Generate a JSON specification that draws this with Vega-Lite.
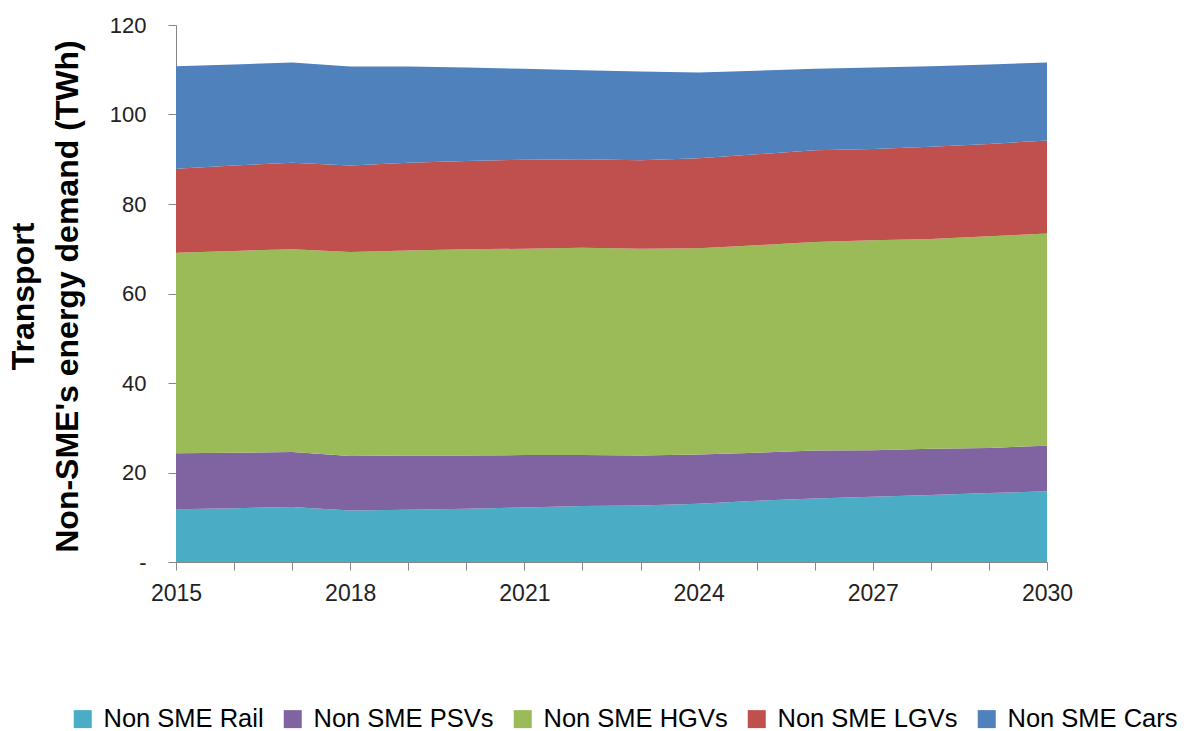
{
  "$schema": "https://vega.github.io/schema/vega-lite/v6.json",
  "width": 871,
  "height": 537,
  "autosize": {"type": "none"},
  "padding": {"left": 176, "top": 25, "right": 139, "bottom": 169},
  "background": "white",
  "config": {"view": {"stroke": null}, "font": "Liberation Sans"},
  "data": {
    "values": [
      {"year": 2015, "series": "Non SME Rail", "value": 11.8},
      {"year": 2016, "series": "Non SME Rail", "value": 12.0},
      {"year": 2017, "series": "Non SME Rail", "value": 12.3},
      {"year": 2018, "series": "Non SME Rail", "value": 11.5},
      {"year": 2019, "series": "Non SME Rail", "value": 11.7},
      {"year": 2020, "series": "Non SME Rail", "value": 11.9},
      {"year": 2021, "series": "Non SME Rail", "value": 12.2},
      {"year": 2022, "series": "Non SME Rail", "value": 12.5},
      {"year": 2023, "series": "Non SME Rail", "value": 12.6},
      {"year": 2024, "series": "Non SME Rail", "value": 13.0},
      {"year": 2025, "series": "Non SME Rail", "value": 13.7},
      {"year": 2026, "series": "Non SME Rail", "value": 14.2},
      {"year": 2027, "series": "Non SME Rail", "value": 14.6},
      {"year": 2028, "series": "Non SME Rail", "value": 15.0},
      {"year": 2029, "series": "Non SME Rail", "value": 15.4},
      {"year": 2030, "series": "Non SME Rail", "value": 15.8},
      {"year": 2015, "series": "Non SME PSVs", "value": 12.5},
      {"year": 2016, "series": "Non SME PSVs", "value": 12.4},
      {"year": 2017, "series": "Non SME PSVs", "value": 12.3},
      {"year": 2018, "series": "Non SME PSVs", "value": 12.2},
      {"year": 2019, "series": "Non SME PSVs", "value": 12.1},
      {"year": 2020, "series": "Non SME PSVs", "value": 11.9},
      {"year": 2021, "series": "Non SME PSVs", "value": 11.7},
      {"year": 2022, "series": "Non SME PSVs", "value": 11.4},
      {"year": 2023, "series": "Non SME PSVs", "value": 11.2},
      {"year": 2024, "series": "Non SME PSVs", "value": 11.0},
      {"year": 2025, "series": "Non SME PSVs", "value": 10.7},
      {"year": 2026, "series": "Non SME PSVs", "value": 10.7},
      {"year": 2027, "series": "Non SME PSVs", "value": 10.4},
      {"year": 2028, "series": "Non SME PSVs", "value": 10.3},
      {"year": 2029, "series": "Non SME PSVs", "value": 10.1},
      {"year": 2030, "series": "Non SME PSVs", "value": 10.2},
      {"year": 2015, "series": "Non SME HGVs", "value": 44.8},
      {"year": 2016, "series": "Non SME HGVs", "value": 45.1},
      {"year": 2017, "series": "Non SME HGVs", "value": 45.3},
      {"year": 2018, "series": "Non SME HGVs", "value": 45.6},
      {"year": 2019, "series": "Non SME HGVs", "value": 45.8},
      {"year": 2020, "series": "Non SME HGVs", "value": 46.1},
      {"year": 2021, "series": "Non SME HGVs", "value": 46.1},
      {"year": 2022, "series": "Non SME HGVs", "value": 46.3},
      {"year": 2023, "series": "Non SME HGVs", "value": 46.2},
      {"year": 2024, "series": "Non SME HGVs", "value": 46.1},
      {"year": 2025, "series": "Non SME HGVs", "value": 46.4},
      {"year": 2026, "series": "Non SME HGVs", "value": 46.6},
      {"year": 2027, "series": "Non SME HGVs", "value": 46.9},
      {"year": 2028, "series": "Non SME HGVs", "value": 46.9},
      {"year": 2029, "series": "Non SME HGVs", "value": 47.3},
      {"year": 2030, "series": "Non SME HGVs", "value": 47.4},
      {"year": 2015, "series": "Non SME LGVs", "value": 18.8},
      {"year": 2016, "series": "Non SME LGVs", "value": 19.1},
      {"year": 2017, "series": "Non SME LGVs", "value": 19.3},
      {"year": 2018, "series": "Non SME LGVs", "value": 19.3},
      {"year": 2019, "series": "Non SME LGVs", "value": 19.6},
      {"year": 2020, "series": "Non SME LGVs", "value": 19.7},
      {"year": 2021, "series": "Non SME LGVs", "value": 19.9},
      {"year": 2022, "series": "Non SME LGVs", "value": 19.8},
      {"year": 2023, "series": "Non SME LGVs", "value": 19.8},
      {"year": 2024, "series": "Non SME LGVs", "value": 20.1},
      {"year": 2025, "series": "Non SME LGVs", "value": 20.3},
      {"year": 2026, "series": "Non SME LGVs", "value": 20.5},
      {"year": 2027, "series": "Non SME LGVs", "value": 20.4},
      {"year": 2028, "series": "Non SME LGVs", "value": 20.6},
      {"year": 2029, "series": "Non SME LGVs", "value": 20.6},
      {"year": 2030, "series": "Non SME LGVs", "value": 20.8},
      {"year": 2015, "series": "Non SME Cars", "value": 22.9},
      {"year": 2016, "series": "Non SME Cars", "value": 22.6},
      {"year": 2017, "series": "Non SME Cars", "value": 22.4},
      {"year": 2018, "series": "Non SME Cars", "value": 22.1},
      {"year": 2019, "series": "Non SME Cars", "value": 21.5},
      {"year": 2020, "series": "Non SME Cars", "value": 20.9},
      {"year": 2021, "series": "Non SME Cars", "value": 20.3},
      {"year": 2022, "series": "Non SME Cars", "value": 19.9},
      {"year": 2023, "series": "Non SME Cars", "value": 19.8},
      {"year": 2024, "series": "Non SME Cars", "value": 19.2},
      {"year": 2025, "series": "Non SME Cars", "value": 18.7},
      {"year": 2026, "series": "Non SME Cars", "value": 18.2},
      {"year": 2027, "series": "Non SME Cars", "value": 18.2},
      {"year": 2028, "series": "Non SME Cars", "value": 18.0},
      {"year": 2029, "series": "Non SME Cars", "value": 17.8},
      {"year": 2030, "series": "Non SME Cars", "value": 17.4}
    ]
  },
  "transform": [
    {"calculate": "indexof(['Non SME Rail','Non SME PSVs','Non SME HGVs','Non SME LGVs','Non SME Cars'], datum.series)", "as": "rank"}
  ],
  "mark": {"type": "area", "interpolate": "linear"},
  "encoding": {
    "x": {
      "field": "year",
      "type": "quantitative",
      "scale": {"domain": [2015, 2030], "nice": false, "zero": false},
      "axis": {
        "title": null,
        "values": [2015, 2016, 2017, 2018, 2019, 2020, 2021, 2022, 2023, 2024, 2025, 2026, 2027, 2028, 2029, 2030],
        "format": "d",
        "labelExpr": "(datum.value - 2015) % 3 == 0 ? datum.label : ''",
        "grid": false,
        "domainColor": "#868686",
        "tickColor": "#868686",
        "tickSize": 8,
        "labelFontSize": 23,
        "labelColor": "#222222",
        "labelPadding": 12,
        "labelFlush": false,
        "labelOverlap": false
      }
    },
    "y": {
      "field": "value",
      "type": "quantitative",
      "stack": "zero",
      "scale": {"domain": [0, 120], "nice": false},
      "axis": {
        "title": ["Transport", "Non-SME's energy demand (TWh)"],
        "titleFontSize": 32,
        "titleFontWeight": "bold",
        "titleColor": "#000000",
        "titleLineHeight": 44,
        "titleAngle": -90,
        "titleAlign": "center",
        "titleBaseline": "middle",
        "titleX": -153,
        "titleY": 271,
        "values": [0, 20, 40, 60, 80, 100, 120],
        "labelExpr": "datum.value == 0 ? '-' : datum.label",
        "grid": false,
        "domainColor": "#868686",
        "tickColor": "#868686",
        "tickSize": 8,
        "labelFontSize": 22,
        "labelColor": "#222222",
        "labelPadding": 22
      }
    },
    "color": {
      "field": "series",
      "type": "nominal",
      "scale": {
        "domain": ["Non SME Rail", "Non SME PSVs", "Non SME HGVs", "Non SME LGVs", "Non SME Cars"],
        "range": ["#4BACC6", "#8064A2", "#9BBB59", "#C0504D", "#4F81BD"]
      },
      "legend": {
        "title": null,
        "orient": "none",
        "direction": "horizontal",
        "legendX": -106,
        "legendY": 681,
        "symbolType": "square",
        "symbolSize": 324,
        "symbolOpacity": 1,
        "symbolStrokeWidth": 0,
        "labelFontSize": 25.5,
        "labelColor": "#000000",
        "labelOffset": 8,
        "columnPadding": 16,
        "labelLimit": 400
      }
    },
    "order": {"field": "rank", "type": "quantitative"}
  }
}
